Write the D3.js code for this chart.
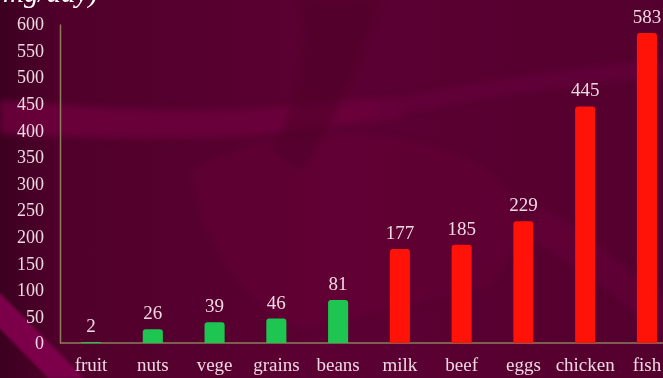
<!DOCTYPE html>
<html>
<head>
<meta charset="utf-8">
<script src="https://cdn.jsdelivr.net/npm/d3@7"></script>
<style>
  html, body { margin: 0; padding: 0; background: #560030; overflow: hidden; }
  svg { display: block; }
</style>
</head>
<body>
<svg id="chart" width="663" height="378"></svg>
<script>
// Daily intake by food group
const categories = ["fruit", "nuts", "vege", "grains", "beans", "milk", "beef", "eggs", "chicken", "fish"];
const values = [2, 26, 39, 46, 81, 177, 185, 229, 445, 583];
const groups = ["plant", "plant", "plant", "plant", "plant", "animal", "animal", "animal", "animal", "animal"];
const yTicks = [0, 50, 100, 150, 200, 250, 300, 350, 400, 450, 500, 550, 600];
const unitLabel = "(mg/day)";

const W = 663, H = 378;
const svg = d3.select("#chart");
const defs = svg.append("defs");

// background: dark wine with soft lighter swooshes
const bgGrad = defs.append("linearGradient").attr("id", "bg").attr("x1", 0).attr("x2", 1).attr("y1", 0).attr("y2", 0);
bgGrad.append("stop").attr("offset", 0).attr("stop-color", "#3c0020");
bgGrad.append("stop").attr("offset", 0.09).attr("stop-color", "#50002b");
bgGrad.append("stop").attr("offset", 0.5).attr("stop-color", "#5c0033");
bgGrad.append("stop").attr("offset", 1).attr("stop-color", "#54002e");
svg.append("rect").attr("width", W).attr("height", H).attr("fill", "url(#bg)");

const blur = defs.append("filter").attr("id", "soft").attr("x", -0.2).attr("y", -0.2).attr("width", 1.4).attr("height", 1.4);
blur.append("feGaussianBlur").attr("stdDeviation", 3);
const blurLight = defs.append("filter").attr("id", "softer").attr("x", -0.2).attr("y", -0.2).attr("width", 1.4).attr("height", 1.4);
blurLight.append("feGaussianBlur").attr("stdDeviation", 1.2);

const swoosh = svg.append("g").attr("filter", "url(#soft)");
swoosh.append("path")
  .attr("d", "M0,100 C80,106 150,112 230,110 C300,108 330,100 400,98 L400,118 C330,124 260,140 150,138 C90,138 40,136 0,134 Z")
  .attr("fill", "#6c003c").attr("opacity", 0.85);
swoosh.append("path")
  .attr("d", "M380,100 C460,86 560,66 663,60 L663,78 C570,84 470,100 380,118 Z")
  .attr("fill", "#64003a").attr("opacity", 0.7);
swoosh.append("path")
  .attr("d", "M190,170 C270,130 380,120 470,160 C520,185 530,240 490,285 L300,330 C240,300 200,240 190,170 Z")
  .attr("fill", "#640036").attr("opacity", 0.55);
swoosh.append("path")
  .attr("d", "M540,205 C590,235 630,270 663,300 L663,335 C620,300 580,265 520,235 Z")
  .attr("fill", "#66003a").attr("opacity", 0.55);
swoosh.append("path")
  .attr("d", "M300,0 L380,0 C360,60 340,120 300,170 L270,150 C300,100 310,50 300,0 Z")
  .attr("fill", "#4c0029").attr("opacity", 0.45);
svg.append("path")
  .attr("filter", "url(#softer)")
  .attr("d", "M-5,288 L84,378 L48,378 L-5,324 Z")
  .attr("fill", "#7c0048");

// scales
const x = d3.scaleBand().domain(categories).range([60, 678]).paddingInner(0.675).paddingOuter(0.34);
const y = d3.scaleLinear().domain([0, 600]).range([343, 24]);

const textColor = "#eed8e2";
const font = "'Liberation Serif', 'Times New Roman', serif";

// unit caption, running off the top edge
svg.append("text")
  .attr("x", 98).attr("y", 2)
  .attr("text-anchor", "end")
  .attr("font-family", font).attr("font-style", "italic")
  .attr("font-size", 29).attr("fill", "#ffffff")
  .text(unitLabel);

// y axis (labels only, plus the axis line)
const yAxis = d3.axisLeft(y).tickValues(yTicks).tickSize(0).tickPadding(16);
const gy = svg.append("g").attr("transform", "translate(60,0)").call(yAxis);
gy.select(".domain").attr("stroke", "#8c7e5c").attr("stroke-width", 1.5);
gy.selectAll("text").attr("font-family", font).attr("font-size", 18).attr("fill", textColor);

// x axis baseline and category labels
const xAxis = d3.axisBottom(x).tickSize(0).tickPadding(15);
const gx = svg.append("g").attr("transform", "translate(0,343)").call(xAxis);
gx.select(".domain").attr("stroke", "#8c7e5c").attr("stroke-width", 1.5).attr("d", "M60,0H663");
gx.selectAll("text").attr("font-family", font).attr("font-size", 19).attr("fill", textColor);

// bars
const colors = { plant: "#1ec651", animal: "#ff1208" };
const bars = svg.append("g");
categories.forEach((c, i) => {
  const top = y(values[i]);
  const h = y(0) - top;
  if (h <= 0) return;
  const w = x.bandwidth();
  const r = Math.min(3, h / 2);
  bars.append("path")
    .attr("d", `M${x(c)},${y(0)} V${top + r} Q${x(c)},${top} ${x(c) + r},${top} H${x(c) + w - r} Q${x(c) + w},${top} ${x(c) + w},${top + r} V${y(0)} Z`)
    .attr("fill", colors[groups[i]]);
});

// value labels
svg.append("g").selectAll("text")
  .data(categories)
  .join("text")
  .attr("x", d => x(d) + x.bandwidth() / 2)
  .attr("y", (d, i) => y(values[i]) - 10)
  .attr("text-anchor", "middle")
  .attr("font-family", font).attr("font-size", 19)
  .attr("fill", textColor)
  .text((d, i) => values[i]);
</script>
</body>
</html>
